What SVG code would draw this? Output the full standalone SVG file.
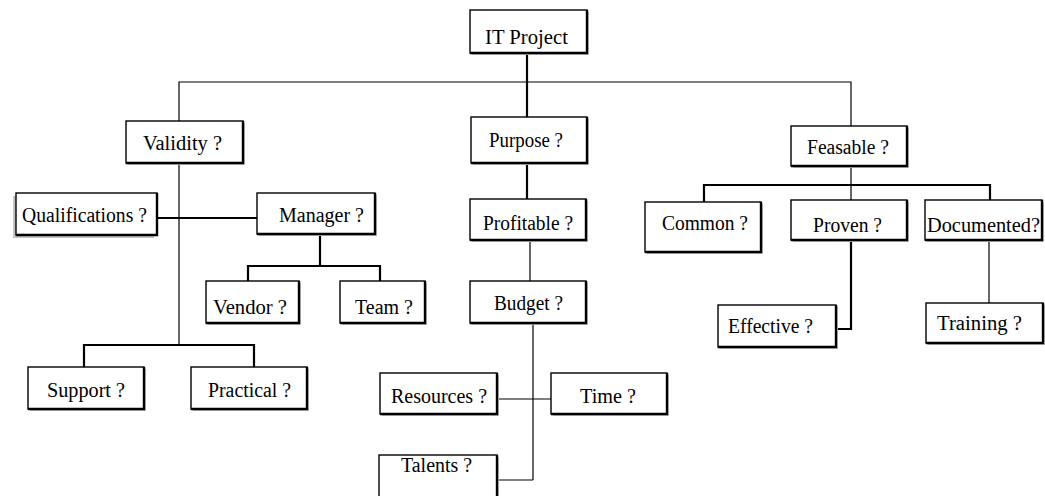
<svg xmlns="http://www.w3.org/2000/svg" width="1045" height="496" viewBox="0 0 1045 496">
  <defs>
    <style>
      .bg { fill: #ffffff; }
      .shadow { fill: #c4c4c4; }
      .box { fill: #ffffff; stroke: #000000; stroke-width: 1.4; }
      .edge { fill: none; stroke: #000000; stroke-width: 2.4; }
      .label { font-family: "Liberation Serif", "DejaVu Serif", "Times New Roman", serif; font-size: 20px; fill: #000000; text-anchor: start; }
      .thin { fill: none; stroke: #000000; stroke-width: 1.2; }
      .thick { fill: none; stroke: #000000; stroke-width: 2.2; }
    </style>
  </defs>
  <rect class="bg" x="0" y="0" width="1045" height="496"/>

  <!-- connectors -->
  <g id="connectors">
    <polyline class="thin" points="179,121 179,82 851,82 851,126"/>
    <line class="thin" x1="179" y1="163" x2="179" y2="345"/>
    <line class="thick" x1="527" y1="53" x2="527" y2="117"/>
    <line class="thick" x1="527" y1="163" x2="527" y2="199"/>
    <line class="thin" x1="530" y1="240" x2="530" y2="281"/>
    <line class="thin" x1="533" y1="323" x2="533" y2="480"/>
    <line class="thin" x1="497" y1="399" x2="551" y2="399"/>
    <line class="thin" x1="497" y1="480" x2="533" y2="480"/>
    <line class="thick" x1="157" y1="218" x2="257" y2="218"/>
    <line class="thick" x1="320" y1="234" x2="320" y2="266"/>
    <polyline class="thick" points="248,281 248,266 380,266 380,281"/>
    <polyline class="thick" points="84,367 84,345 254,345 254,367"/>
    <line class="thin" x1="851" y1="166" x2="851" y2="200"/>
    <polyline class="thick" points="704,202 704,185 990,185 990,200"/>
    <polyline class="thick" points="851,240 851,329 836,329"/>
    <line class="thin" x1="989" y1="240" x2="989" y2="303"/>
  </g>

  <g id="it-project">
    <rect class="shadow" x="472" y="12" width="117" height="43"/>
    <rect class="box" x="470" y="10" width="117" height="43"/>
    <polyline class="edge" points="587,10 587,53 470,53"/>
    <text class="label" x="485" y="44" textLength="83" lengthAdjust="spacingAndGlyphs">IT Project</text>
  </g>

  <g id="validity">
    <rect class="shadow" x="128" y="123" width="117" height="42"/>
    <rect class="box" x="126" y="121" width="117" height="42"/>
    <polyline class="edge" points="243,121 243,163 126,163"/>
    <text class="label" x="143" y="150" textLength="79" lengthAdjust="spacingAndGlyphs">Validity ?</text>
  </g>

  <g id="purpose">
    <rect class="shadow" x="473" y="119" width="116" height="46"/>
    <rect class="box" x="471" y="117" width="116" height="46"/>
    <polyline class="edge" points="587,117 587,163 471,163"/>
    <text class="label" x="489" y="147" textLength="74" lengthAdjust="spacingAndGlyphs">Purpose ?</text>
  </g>

  <g id="feasable">
    <rect class="shadow" x="793" y="128" width="116" height="40"/>
    <rect class="box" x="791" y="126" width="116" height="40"/>
    <polyline class="edge" points="907,126 907,166 791,166"/>
    <text class="label" x="807" y="154" textLength="82" lengthAdjust="spacingAndGlyphs">Feasable ?</text>
  </g>

  <g id="qualifications">
    <rect class="shadow" x="13" y="196" width="141" height="42"/>
    <rect class="box" x="16" y="193" width="141" height="42"/>
    <polyline class="edge" points="157,193 157,235 16,235"/>
    <text class="label" x="22" y="222" textLength="125" lengthAdjust="spacingAndGlyphs">Qualifications ?</text>
  </g>

  <g id="manager">
    <rect class="shadow" x="259" y="195" width="118" height="41"/>
    <rect class="box" x="257" y="193" width="118" height="41"/>
    <polyline class="edge" points="375,193 375,234 257,234"/>
    <text class="label" x="279" y="222" textLength="85" lengthAdjust="spacingAndGlyphs">Manager ?</text>
  </g>

  <g id="vendor">
    <rect class="shadow" x="208" y="283" width="93" height="42"/>
    <rect class="box" x="206" y="281" width="93" height="42"/>
    <polyline class="edge" points="299,281 299,323 206,323"/>
    <text class="label" x="213" y="314" textLength="74" lengthAdjust="spacingAndGlyphs">Vendor ?</text>
  </g>

  <g id="team">
    <rect class="shadow" x="342" y="283" width="85" height="42"/>
    <rect class="box" x="340" y="281" width="85" height="42"/>
    <polyline class="edge" points="425,281 425,323 340,323"/>
    <text class="label" x="355" y="314" textLength="58" lengthAdjust="spacingAndGlyphs">Team ?</text>
  </g>

  <g id="profitable">
    <rect class="shadow" x="472" y="201" width="116" height="41"/>
    <rect class="box" x="470" y="199" width="116" height="41"/>
    <polyline class="edge" points="586,199 586,240 470,240"/>
    <text class="label" x="483" y="230" textLength="90" lengthAdjust="spacingAndGlyphs">Profitable ?</text>
  </g>

  <g id="budget">
    <rect class="shadow" x="472" y="283" width="116" height="42"/>
    <rect class="box" x="470" y="281" width="116" height="42"/>
    <polyline class="edge" points="586,281 586,323 470,323"/>
    <text class="label" x="494" y="310" textLength="69" lengthAdjust="spacingAndGlyphs">Budget ?</text>
  </g>

  <g id="common">
    <rect class="shadow" x="647" y="204" width="116" height="50"/>
    <rect class="box" x="645" y="202" width="116" height="50"/>
    <polyline class="edge" points="761,202 761,252 645,252"/>
    <text class="label" x="662" y="230" textLength="86" lengthAdjust="spacingAndGlyphs">Common ?</text>
  </g>

  <g id="proven">
    <rect class="shadow" x="793" y="202" width="116" height="40"/>
    <rect class="box" x="791" y="200" width="116" height="40"/>
    <polyline class="edge" points="907,200 907,240 791,240"/>
    <text class="label" x="813" y="232" textLength="69" lengthAdjust="spacingAndGlyphs">Proven ?</text>
  </g>

  <g id="documented">
    <rect class="shadow" x="927" y="202" width="117" height="40"/>
    <rect class="box" x="925" y="200" width="117" height="40"/>
    <polyline class="edge" points="1042,200 1042,240 925,240"/>
    <text class="label" x="927" y="232" textLength="113" lengthAdjust="spacingAndGlyphs">Documented?</text>
  </g>

  <g id="effective">
    <rect class="shadow" x="720" y="307" width="118" height="42"/>
    <rect class="box" x="718" y="305" width="118" height="42"/>
    <polyline class="edge" points="836,305 836,347 718,347"/>
    <text class="label" x="728" y="333" textLength="85" lengthAdjust="spacingAndGlyphs">Effective ?</text>
  </g>

  <g id="training">
    <rect class="shadow" x="928" y="305" width="117" height="40"/>
    <rect class="box" x="926" y="303" width="117" height="40"/>
    <polyline class="edge" points="1043,303 1043,343 926,343"/>
    <text class="label" x="937" y="330" textLength="85" lengthAdjust="spacingAndGlyphs">Training ?</text>
  </g>

  <g id="support">
    <rect class="shadow" x="30" y="369" width="116" height="42"/>
    <rect class="box" x="28" y="367" width="116" height="42"/>
    <polyline class="edge" points="144,367 144,409 28,409"/>
    <text class="label" x="47" y="397" textLength="78" lengthAdjust="spacingAndGlyphs">Support ?</text>
  </g>

  <g id="practical">
    <rect class="shadow" x="193" y="369" width="116" height="42"/>
    <rect class="box" x="191" y="367" width="116" height="42"/>
    <polyline class="edge" points="307,367 307,409 191,409"/>
    <text class="label" x="208" y="397" textLength="83" lengthAdjust="spacingAndGlyphs">Practical ?</text>
  </g>

  <g id="resources">
    <rect class="shadow" x="382" y="375" width="117" height="41"/>
    <rect class="box" x="380" y="373" width="117" height="41"/>
    <polyline class="edge" points="497,373 497,414 380,414"/>
    <text class="label" x="391" y="403" textLength="96" lengthAdjust="spacingAndGlyphs">Resources ?</text>
  </g>

  <g id="time">
    <rect class="shadow" x="553" y="375" width="116" height="41"/>
    <rect class="box" x="551" y="373" width="116" height="41"/>
    <polyline class="edge" points="667,373 667,414 551,414"/>
    <text class="label" x="580" y="403" textLength="56" lengthAdjust="spacingAndGlyphs">Time ?</text>
  </g>

  <g id="talents">
    <rect class="shadow" x="381" y="457" width="118" height="45"/>
    <rect class="box" x="379" y="455" width="118" height="45"/>
    <polyline class="edge" points="497,455 497,500"/>
    <text class="label" x="401" y="472" textLength="71" lengthAdjust="spacingAndGlyphs">Talents ?</text>
  </g>
</svg>
